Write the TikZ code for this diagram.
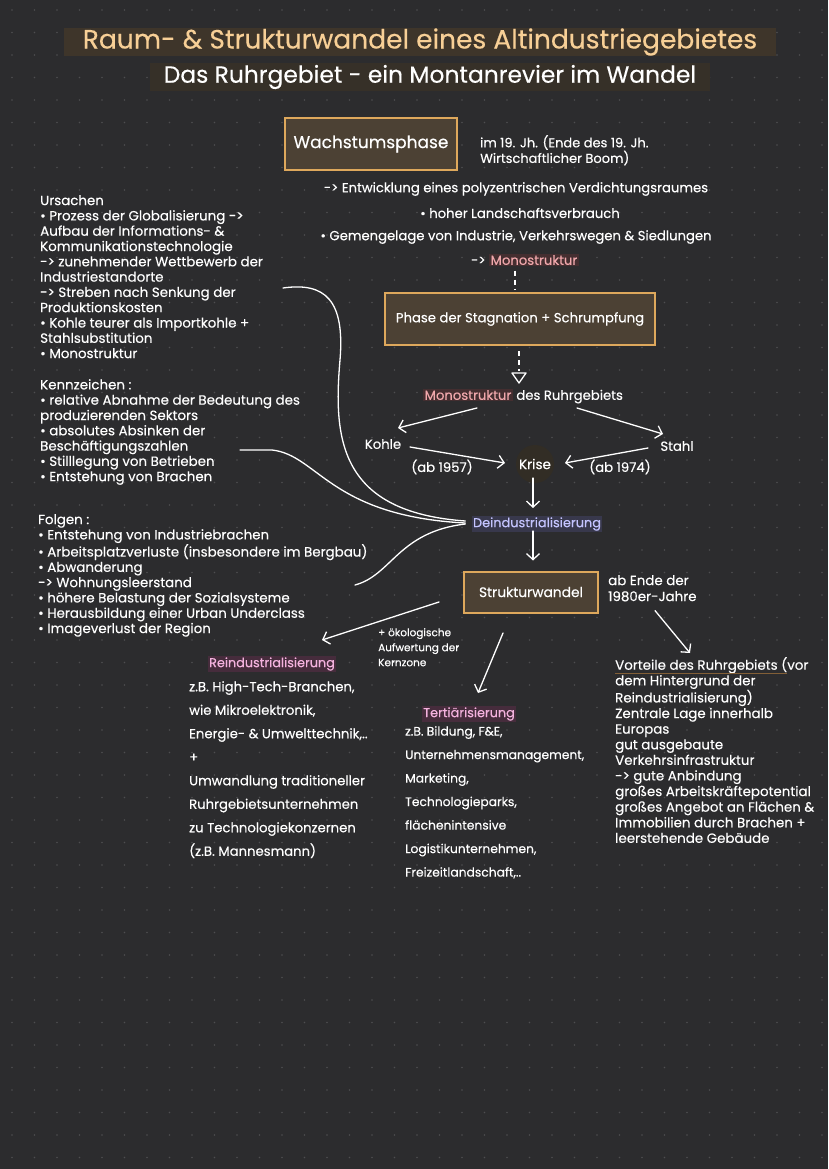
\documentclass[tikz,border=0pt]{standalone}
\usepackage{fontspec}
\setmainfont{Poppins}[FakeBold=0.3]
\usetikzlibrary{arrows.meta,calc}
\definecolor{bg}{RGB}{44,44,46}
\definecolor{dotc}{RGB}{78,78,80}
\definecolor{peach}{RGB}{247,207,150}
\definecolor{titlebg}{RGB}{62,53,42}
\definecolor{subbg}{RGB}{54,48,40}
\definecolor{boxfill}{RGB}{76,65,52}
\definecolor{gold}{RGB}{222,168,92}
\definecolor{pinktxt}{RGB}{240,168,172}
\definecolor{pinkbg}{RGB}{68,46,48}
\definecolor{magtxt}{RGB}{244,178,222}
\definecolor{magbg}{RGB}{70,44,60}
\definecolor{lavtxt}{RGB}{196,196,255}
\definecolor{lavbg}{RGB}{56,56,76}
\definecolor{krisebg}{RGB}{50,45,37}
\definecolor{ulcol}{RGB}{130,95,55}
\newcommand{\hlword}[3]{{\setlength{\fboxsep}{1.5pt}\colorbox{#1}{\textcolor{#2}{#3}}}}
\tikzset{
  txt/.style={text=white, inner sep=0pt, align=left, anchor=north west, font=\fontsize{13.4}{15.3}\selectfont},
  ctxt/.style={text=white, inner sep=0pt, font=\fontsize{13.2}{15}\selectfont},
  phasebox/.style={draw=gold, line width=2pt, fill=boxfill, text=white, inner sep=0pt},
  arr/.style={draw=white, line width=1.3pt, line cap=round, -{Straight Barb[length=6pt,width=13pt,line width=1.3pt]}},
  curve/.style={draw=white, line width=1.3pt, line cap=round},
  dashln/.style={draw=white, line width=1.3pt, dashed, dash pattern=on 5pt off 4pt}
}
\begin{document}
\begin{tikzpicture}[x=1pt,y=-1pt]
\fill[bg] (0,0) rectangle (828,1169);
\useasboundingbox (0,0) rectangle (828,1169);
\foreach \i in {0,...,36} {\foreach \j in {0,...,51} {\fill[dotc] (12+\i*22.5,10+\j*22.5) circle (0.8);}}

% titles
\node[fill=titlebg, minimum width=712pt, minimum height=28pt, inner sep=0pt, text=peach, font=\fontsize{26.5}{28}\selectfont] (title) at (420,42) {Raum- \& Strukturwandel eines Altindustriegebietes};
\node[fill=subbg, minimum width=560pt, minimum height=28pt, inner sep=0pt, text=white, font=\fontsize{23.4}{25}\selectfont] (sub) at (430,77) {Das Ruhrgebiet - ein Montanrevier im Wandel};

% Wachstumsphase
\node[phasebox, minimum width=172pt, minimum height=52pt, font=\fontsize{17}{20}\selectfont] (wachs) at (371,144) {Wachstumsphase};
\node[txt, font=\fontsize{13}{14}\selectfont] (boom) at (480,135) {im 19. Jh. (Ende des 19. Jh.\\Wirtschaftlicher Boom)};
\node[ctxt] (entw) at (516,189) {-> Entwicklung eines polyzentrischen Verdichtungsraumes};
\node[ctxt] (hoher) at (520,213) {• hoher Landschaftsverbrauch};
\node[ctxt] (gemenge) at (516,237) {• Gemengelage von Industrie, Verkehrswegen \& Siedlungen};
\node[ctxt] (mono1) at (525,260) {-> \hlword{pinkbg}{pinktxt}{Monostruktur}};

% Phase der Stagnation
\node[phasebox, minimum width=270pt, minimum height=52pt, font=\fontsize{13.2}{15}\selectfont] (phase) at (520,319) {Phase der Stagnation + Schrumpfung};
\draw[dashln] ($(mono1.south)+(-10,4)$) -- ($(phase.north)+(-5,-3)$);
\draw[dashln] ($(phase.south)+(-1,5)$) -- ($(phase.south)+(-1,25)$);
\coordinate (tri) at ($(phase.south)+(-1,25)$);
\draw[white, line width=1.3pt, line join=round] ($(tri)+(-7,2)$) -- ($(tri)+(7,2)$) -- ($(tri)+(0,12)$) -- cycle;

\node[ctxt] (mono2) at (523,396) {\hlword{pinkbg}{pinktxt}{Monostruktur} des Ruhrgebiets};
\node[ctxt] (kohle) at (383,444) {Kohle};
\node[ctxt] (stahl) at (677,446) {Stahl};
\node[circle, fill=krisebg, minimum size=38pt, inner sep=0pt, text=white, font=\fontsize{13.5}{15}\selectfont] (krise) at (535,464) {Krise};
\node[ctxt] (ab57) at (442,467) {(ab 1957)};
\node[ctxt] (ab74) at (620,467) {(ab 1974)};

\draw[arr] ($(mono2)+(-46,12)$) -- ($(kohle)+(15,-16)$);
\draw[arr] ($(mono2)+(54,12)$) -- ($(stahl)+(-14,-12)$);
\draw[arr] ($(kohle)+(27,3)$) -- ($(krise)+(-30,-1)$);
\draw[arr] ($(stahl)+(-29,2)$) -- ($(krise)+(30,-1)$);

\node[ctxt, fill=lavbg, inner sep=1.5pt, text=lavtxt, font=\fontsize{12.9}{15}\selectfont] (deind) at (537,524) {Deindustrialisierung};
\draw[arr] ($(krise)+(-2,14)$) -- ($(deind)+(-4,-16)$);

\node[phasebox, minimum width=134pt, minimum height=41pt, font=\fontsize{13.8}{16}\selectfont] (struk) at (531,592) {Strukturwandel};
\draw[arr] ($(deind)+(-4,7)$) -- ($(struk.north)+(2,-10)$);
\node[txt, font=\fontsize{13.4}{16}\selectfont] (abende) at (608,575) {ab Ende der\\1980er-Jahre};

% left blocks
\node[txt] (urs) at (40,195) {Ursachen\\• Prozess der Globalisierung ->\\Aufbau der Informations- \&\\Kommunikationstechnologie\\-> zunehmender Wettbewerb der\\Industriestandorte\\-> Streben nach Senkung der\\Produktionskosten\\• Kohle teurer als Importkohle +\\Stahlsubstitution\\• Monostruktur};
\node[txt] (kennz) at (40,379) {Kennzeichen :\\• relative Abnahme der Bedeutung des\\produzierenden Sektors\\• absolutes Absinken der\\Beschäftigungszahlen\\• Stilllegung von Betrieben\\• Entstehung von Brachen};
\node[txt] (folgen) at (38,514) {Folgen :\\• Entstehung von Industriebrachen\\• Arbeitsplatzverluste (insbesondere im Bergbau)\\• Abwanderung\\-> Wohnungsleerstand\\• höhere Belastung der Sozialsysteme\\• Herausbildung einer Urban Underclass\\• Imageverlust der Region};

\draw[curve] ($(urs.north west)+(243,93)$) .. controls (325,282) and (345,300) .. (340,360) .. controls (333,440) and (340,512) .. ($(deind.west)+(-6,-3)$);
\draw[curve] ($(kennz.north west)+(200,71)$) -- (272,450) .. controls (318,455) and (330,516) .. ($(deind.west)+(-6,-1)$);
\draw[curve] ($(folgen.north west)+(317,71)$) .. controls (392,575) and (398,532) .. ($(deind.west)+(-6,0)$);

% lower part
\node[txt, font=\fontsize{10.5}{15}\selectfont] (oeko) at (378,628) {+ ökologische\\Aufwertung der\\Kernzone};
\node[ctxt, fill=magbg, inner sep=1.5pt, text=magtxt, font=\fontsize{12.8}{15}\selectfont] (rein) at (272,664) {Reindustrialisierung};
\node[txt, font=\fontsize{13.2}{23.5}\selectfont] (reinlist) at (189,681) {z.B. High-Tech-Branchen,\\wie Mikroelektronik,\\Energie- \& Umwelttechnik,..\\+\\Umwandlung traditioneller\\Ruhrgebietsunternehmen\\zu Technologiekonzernen\\(z.B. Mannesmann)};
\node[ctxt, fill=magbg, inner sep=1.5pt, text=magtxt, font=\fontsize{12.8}{15}\selectfont] (tert) at (469,714) {Tertiärisierung};
\node[txt, font=\fontsize{12.3}{23.5}\selectfont] (tertlist) at (405,726) {z.B. Bildung, F\&E,\\Unternehmensmanagement,\\Marketing,\\Technologieparks,\\flächenintensive\\Logistikunternehmen,\\Freizeitlandschaft,..};
\node[txt, font=\fontsize{13.4}{15.6}\selectfont] (vort) at (615,657) {Vorteile des Ruhrgebiets (vor\\dem Hintergrund der\\Reindustrialisierung)\\Zentrale Lage innerhalb\\Europas\\gut ausgebaute\\Verkehrsinfrastruktur\\-> gute Anbindung\\großes Arbeitskräftepotential\\großes Angebot an Flächen \&\\Immobilien durch Brachen +\\leerstehende Gebäude};
\draw[ulcol, line width=1pt] ($(vort.north west)+(0,16)$) -- ($(vort.north west)+(172,16)$);

\draw[arr] ($(struk.west)+(-24,10)$) -- ($(rein)+(50,-24)$);
\draw[arr] ($(struk.south)+(-28,19.5)$) -- ($(tert)+(9,-21)$);
\draw[arr] ($(abende.south west)+(47,9)$) -- ($(vort.north west)+(75,-4)$);
\end{tikzpicture}
\end{document}
